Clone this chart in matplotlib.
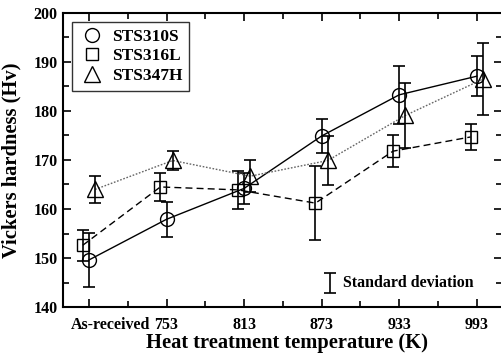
import matplotlib
matplotlib.use("Agg")
import matplotlib.pyplot as plt
from matplotlib.lines import Line2D
from matplotlib.transforms import ScaledTranslation
import numpy as np

plt.rcParams['font.family'] = ['Liberation Serif', 'DejaVu Serif']
plt.rcParams['font.weight'] = 'bold'

categories = ['As-received', '753', '813', '873', '933', '993']

sts310s = [149.6, 157.9, 164.2, 174.9, 183.3, 187.1]
sts310s_err = [5.6, 3.6, 3.2, 3.4, 5.9, 4.1]
sts316l = [152.6, 164.5, 163.9, 161.2, 171.8, 174.7]
sts316l_err = [3.2, 2.9, 3.9, 7.6, 3.2, 2.7]
sts347h = [164.0, 169.9, 166.7, 169.9, 179.1, 186.5]
sts347h_err = [2.7, 2.0, 3.3, 5.0, 6.6, 7.4]

sd_x, sd_y, sd_err = 3.11, 144.9, 2.05

x = np.arange(len(categories))

fig = plt.figure(figsize=(5.01, 3.55), dpi=100)
ax = fig.add_axes([0.1257, 0.1352, 0.877, 0.8282])

ax.plot(x, sts310s, color='black', lw=1.0, ls='-', marker='o', ms=10,
        mfc='none', mec='black', mew=1.0)
ax.errorbar(x, sts310s, yerr=sts310s_err, fmt='none', ecolor='black',
            elinewidth=1.2, capsize=4, capthick=1.2)

x2 = x - 0.08
ax.plot(x2, sts316l, color='black', lw=1.0, ls=(0, (5, 3)), marker='s', ms=9,
        mfc='none', mec='black', mew=1.0)
ax.errorbar(x2, sts316l, yerr=sts316l_err, fmt='none', ecolor='black',
            elinewidth=1.2, capsize=4, capthick=1.2)

x3 = x + 0.08
ax.plot(x3, sts347h, color='#666666', lw=1.0, ls=(0, (1.2, 1.2)), marker='^', ms=11,
        mfc='none', mec='black', mew=1.0)
ax.errorbar(x3, sts347h, yerr=sts347h_err, fmt='none', ecolor='black',
            elinewidth=1.2, capsize=4, capthick=1.2)

ax.errorbar([sd_x], [sd_y], yerr=[sd_err], fmt='none', ecolor='black',
            elinewidth=1.2, capsize=4, capthick=1.2)
ax.text(sd_x + 0.16, sd_y, 'Standard deviation', fontsize=11.4, fontweight='bold',
        va='center', ha='left')

ax.set_xlim(-0.335, 5.33)
ax.set_ylim(140, 200)
ax.set_xticks(x)
ax.set_xticklabels(categories)
ax.set_xticks(x[:-1] + 0.5, minor=True)
ax.set_yticks(np.arange(140, 201, 10))
ax.set_yticks(np.arange(145, 200, 10), minor=True)

ax.tick_params(which='both', direction='in', top=True, right=True,
               labelsize=11.5, width=1.2)
ax.tick_params(which='major', length=6, pad=7)
ax.tick_params(axis='y', which='major', pad=4)
ax.tick_params(which='minor', length=4)
for lab in ax.get_xticklabels() + ax.get_yticklabels():
    lab.set_fontweight('bold')
first = ax.get_xticklabels()[0]
first.set_transform(first.get_transform() + ScaledTranslation(0.22, 0, fig.dpi_scale_trans))

for s in ax.spines.values():
    s.set_linewidth(1.5)

ax.set_xlabel('Heat treatment temperature (K)', fontsize=14.8, fontweight='bold')
ax.set_ylabel('Vickers hardness (Hv)', fontsize=14.8, fontweight='bold')
ax.xaxis.set_label_coords(0.51, -0.09)
ax.yaxis.set_label_coords(-0.095, 0.5)

handles = [
    Line2D([], [], ls='none', marker='o', ms=10, mfc='none', mec='black'),
    Line2D([], [], ls='none', marker='s', ms=9, mfc='none', mec='black'),
    Line2D([], [], ls='none', marker='^', ms=11, mfc='none', mec='black'),
]
leg = ax.legend(handles, ['STS310S', 'STS316L', 'STS347H'], loc='upper left',
                prop={'size': 12.5, 'weight': 'bold'}, frameon=True, fancybox=False,
                edgecolor='#333333', borderaxespad=0.5, handletextpad=0.3,
                labelspacing=0.2, handlelength=1.6, borderpad=0.4)
leg.get_frame().set_linewidth(1.0)
leg.get_frame().set_alpha(1)

fig.savefig('out.png', dpi=100)
